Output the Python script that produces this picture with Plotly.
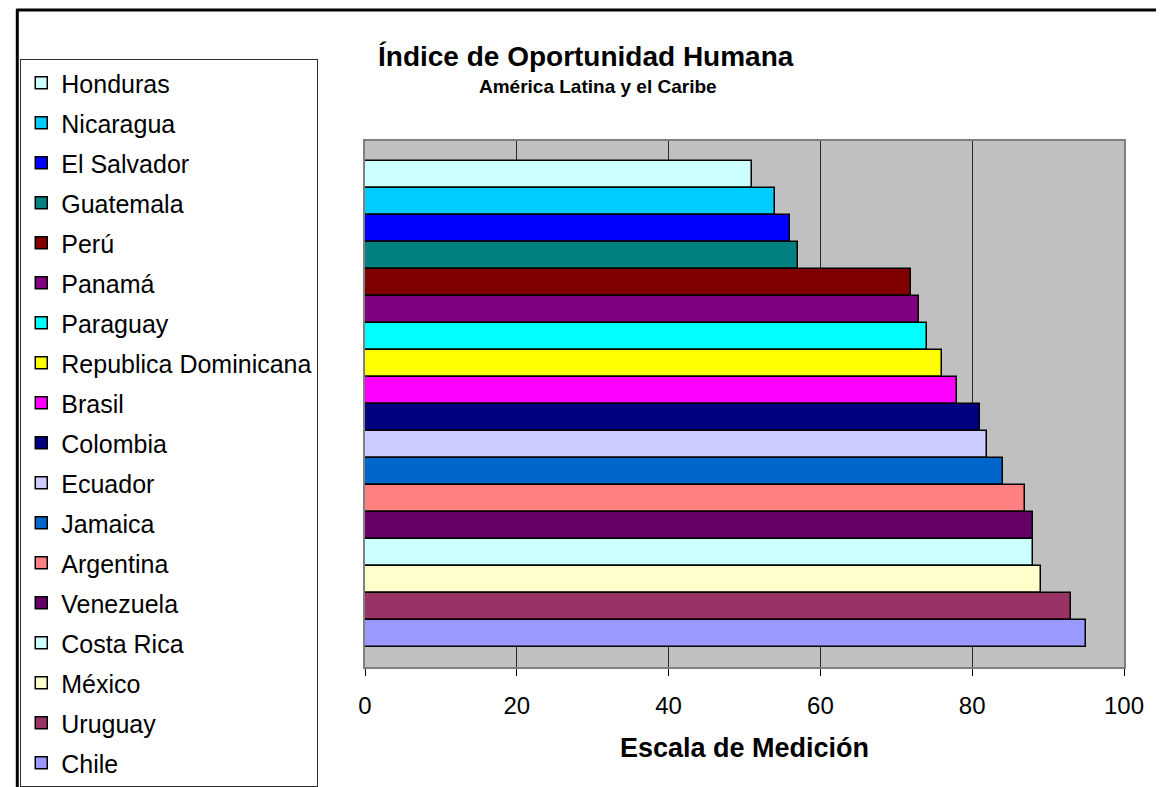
import plotly.graph_objects as go

countries = ["Honduras", "Nicaragua", "El Salvador", "Guatemala", "Perú", "Panamá",
             "Paraguay", "Republica Dominicana", "Brasil", "Colombia", "Ecuador",
             "Jamaica", "Argentina", "Venezuela", "Costa Rica", "México", "Uruguay", "Chile"]
values = [51, 54, 56, 57, 72, 73, 74, 76, 78, 81, 82, 84, 87, 88, 88, 89, 93, 95]
colors = ["#CCFFFF", "#00CCFF", "#0000FF", "#008080", "#800000", "#800080",
          "#00FFFF", "#FFFF00", "#FF00FF", "#000080", "#CCCCFF", "#0066CC",
          "#FF8080", "#660066", "#CCFFFF", "#FFFFCC", "#993366", "#9999FF"]
x_ticks = [0, 20, 40, 60, 80, 100]

FONT = "Liberation Sans, Arial, sans-serif"

fig = go.Figure()
for i, (c, v, col) in enumerate(zip(countries, values, colors)):
    fig.add_trace(go.Bar(
        x=[v], y=[c], orientation="h", name=c, legendgroup=c,
        marker=dict(color=col, line=dict(color="black", width=1.5)),
        width=1,
    ))

# page has an 8px body margin; figure occupies page pixels 8..1164 x 8..787
OFF = 8
W, H = 1164 - OFF, 787 - OFF
# plot area in page pixels: x 360..1124, y 141..667
L, R, T, B = 360 - OFF, 1164 - 1124, 141 - OFF, 787 - 667
pw, ph = W - L - R, H - T - B

def px_x(x):  # page pixel -> paper
    return (x - OFF - L) / pw

def px_y(y):
    return (H - B - (y - OFF)) / ph

fig.update_layout(
    width=W, height=H,
    margin=dict(l=L, r=R, t=T, b=B),
    paper_bgcolor="white",
    plot_bgcolor="#C0C0C0",
    barmode="overlay",
    bargap=0,
    font=dict(family=FONT, color="black"),
    showlegend=True,
    legend=dict(
        x=px_x(13), y=px_y(70), xanchor="left", yanchor="top",
        bgcolor="white", bordercolor="#303030", borderwidth=1,
        font=dict(size=25, family=FONT, color="black"),
        tracegroupgap=4.5,
        traceorder="grouped",
        itemclick=False, itemdoubleclick=False,
        maxheight=2000,
    ),
    xaxis=dict(
        range=[0, 100], tickvals=x_ticks, ticktext=[str(t) for t in x_ticks],
        showgrid=True, gridcolor="#2a2a2a", gridwidth=1,
        showline=True, linecolor="#808080", linewidth=2, mirror=True,
        ticks="outside", ticklen=7, tickcolor="black", tickwidth=1,
        tickfont=dict(size=24, family=FONT, color="black"),
        ticklabelstandoff=9,
        zeroline=False, fixedrange=True,
    ),
    yaxis=dict(
        categoryorder="array", categoryarray=countries,
        range=[17.5 + 0.74, -0.5 - 0.74],
        showticklabels=False, ticks="", showgrid=False,
        showline=True, linecolor="#808080", linewidth=2, mirror=True,
        zeroline=False, fixedrange=True,
    ),
    annotations=[
        dict(text="<b>Índice de Oportunidad Humana</b>", x=px_x(582), y=px_y(57),
             xref="paper", yref="paper", xanchor="center", yanchor="middle",
             showarrow=False, font=dict(size=28, family=FONT, color="black")),
        dict(text="<b>América Latina y el Caribe</b>", x=px_x(595), y=px_y(87),
             xref="paper", yref="paper", xanchor="center", yanchor="middle",
             showarrow=False, font=dict(size=19, family=FONT, color="black")),
        dict(text="<b>Escala de Medición</b>", x=px_x(742), y=px_y(748),
             xref="paper", yref="paper", xanchor="center", yanchor="middle",
             showarrow=False, font=dict(size=27, family=FONT, color="black")),
    ],
    shapes=[
        dict(type="line", xref="paper", yref="paper", x0=px_x(9), x1=px_x(1180),
             y0=px_y(10), y1=px_y(10), line=dict(color="black", width=3)),
        dict(type="line", xref="paper", yref="paper", x0=px_x(10), x1=px_x(10),
             y0=px_y(9), y1=px_y(800), line=dict(color="black", width=3)),
    ],
)

fig.write_html("out.html", config={"displayModeBar": False})
